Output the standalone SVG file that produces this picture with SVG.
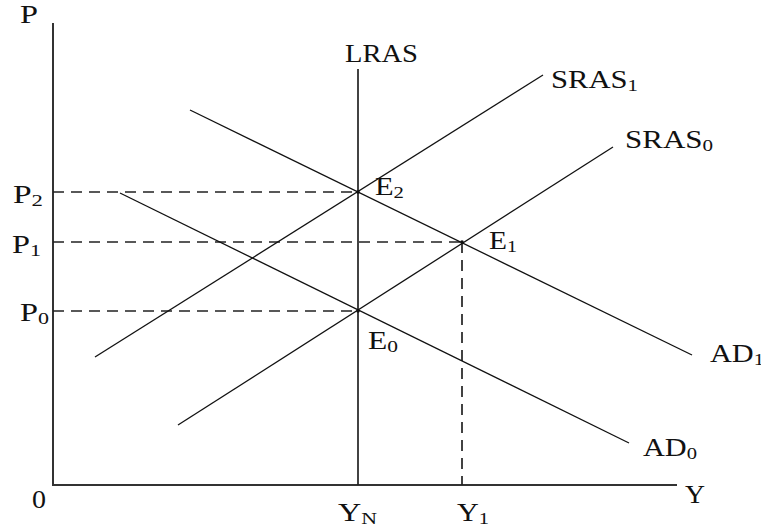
<svg xmlns="http://www.w3.org/2000/svg" width="761" height="531" viewBox="0 0 761 531">
<style>
.axis{stroke:#333;stroke-width:2;fill:none}
.curve{stroke:#111;stroke-width:1.3;fill:none}
.lras{stroke:#222;stroke-width:1.7;fill:none}
.dash{stroke:#222;stroke-width:1.7;fill:none;stroke-dasharray:11 7}
text{font-family:"Liberation Serif","Times New Roman",serif;font-size:25px;fill:#111}
.sub{font-size:17px}
</style>
<rect width="761" height="531" fill="#fff"/>
<g id="connectors">
<path class="axis" d="M53,23 V485 H677"/>
<path class="lras" d="M358,69 V485"/>
<path class="dash" d="M53,192 H358"/>
<path class="dash" d="M53,242 H462"/>
<path class="dash" d="M53,311 H358"/>
<path class="dash" d="M462,242 V485"/>
<path class="curve" d="M190,110 L692,355"/>
<path class="curve" d="M120,193 L629,443"/>
<path class="curve" d="M95,357 L543,75"/>
<path class="curve" d="M178,425 L613,147"/>
</g>
<g id="axis-labels">
<text x="20" y="23" textLength="18" lengthAdjust="spacingAndGlyphs">P</text>
<text x="32" y="508" textLength="14" lengthAdjust="spacingAndGlyphs">0</text>
<text x="685" y="503" textLength="20" lengthAdjust="spacingAndGlyphs">Y</text>
</g>
<g id="P2"><text x="13" y="203" textLength="30" lengthAdjust="spacingAndGlyphs">P<tspan class="sub" dy="3">2</tspan></text></g>
<g id="P1"><text x="12" y="253" textLength="29" lengthAdjust="spacingAndGlyphs">P<tspan class="sub" dy="3">1</tspan></text></g>
<g id="P0"><text x="20" y="321" textLength="29" lengthAdjust="spacingAndGlyphs">P<tspan class="sub" dy="3">0</tspan></text></g>
<g id="LRAS"><text x="345" y="62" textLength="73" lengthAdjust="spacingAndGlyphs">LRAS</text></g>
<g id="E2"><circle cx="358" cy="192" r="1.8" fill="#111"/><text x="375" y="195" textLength="29" lengthAdjust="spacingAndGlyphs">E<tspan class="sub" dy="3">2</tspan></text></g>
<g id="E1"><circle cx="462" cy="242" r="1.8" fill="#111"/><text x="489" y="249" textLength="28" lengthAdjust="spacingAndGlyphs">E<tspan class="sub" dy="3">1</tspan></text></g>
<g id="E0"><circle cx="358" cy="311" r="1.8" fill="#111"/><text x="368" y="349" textLength="30" lengthAdjust="spacingAndGlyphs">E<tspan class="sub" dy="3">0</tspan></text></g>
<g id="YN"><text x="338" y="521" textLength="39" lengthAdjust="spacingAndGlyphs">Y<tspan class="sub" dy="3">N</tspan></text></g>
<g id="Y1"><text x="457" y="521" textLength="32" lengthAdjust="spacingAndGlyphs">Y<tspan class="sub" dy="3">1</tspan></text></g>
<g id="SRAS1"><text x="551" y="88" textLength="87" lengthAdjust="spacingAndGlyphs">SRAS<tspan class="sub" dy="3">1</tspan></text></g>
<g id="SRAS0"><text x="625" y="148" textLength="88" lengthAdjust="spacingAndGlyphs">SRAS<tspan class="sub" dy="3">0</tspan></text></g>
<g id="AD1"><text x="710" y="362" textLength="54" lengthAdjust="spacingAndGlyphs">AD<tspan class="sub" dy="3">1</tspan></text></g>
<g id="AD0"><text x="643" y="456" textLength="54" lengthAdjust="spacingAndGlyphs">AD<tspan class="sub" dy="3">0</tspan></text></g>
</svg>
